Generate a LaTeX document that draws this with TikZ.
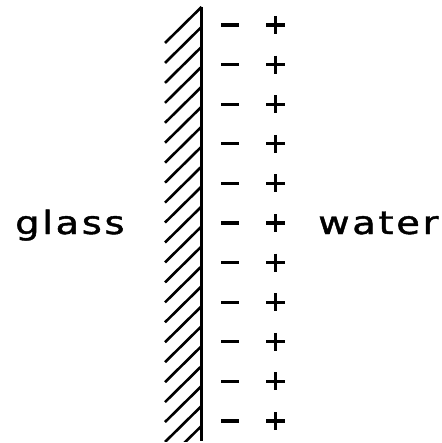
\documentclass[tikz,border=0pt]{standalone}
\usepackage{fontspec}
\setmainfont{DejaVu Sans}
\newfontfamily\lblfont[LetterSpace=7,FakeBold=1.3]{DejaVu Sans}
\tikzset{
  sign/.style={line width=3.2pt},
  hatch/.style={line width=2.6pt},
  wall/.style={line width=3pt},
  lbl/.style={inner sep=0pt, anchor=base west, transform shape, xscale=1.2, font=\lblfont\fontsize{32}{36}\selectfont}
}
\begin{document}
\begin{tikzpicture}[x=1pt,y=-1pt]
\useasboundingbox (0,0) rectangle (441,443);
% wall
\coordinate (wt) at (201.5,7);
\coordinate (wb) at (201.5,441);
\draw[wall] (wt) -- (wb);
% hatching
\begin{scope}
\clip (150,7) rectangle (201.5,441);
\foreach \k in {0,...,21} {
  \draw[hatch] (165,43+19.95*\k) -- (201.5,7+19.95*\k);
}
\end{scope}
% charges
\foreach \i in {0,...,10} {
  \pgfmathsetmacro{\yy}{25+39.6*\i}
  \draw[sign] (221,\yy) -- (239,\yy);
  \draw[sign] (266,\yy) -- (285,\yy);
  \draw[sign] (275.5,\yy-9) -- (275.5,\yy+9);
}
\node[lbl] (glass) at (15,234) {glass};
\node[lbl] (water) at (318,234) {water};
\end{tikzpicture}
\end{document}
